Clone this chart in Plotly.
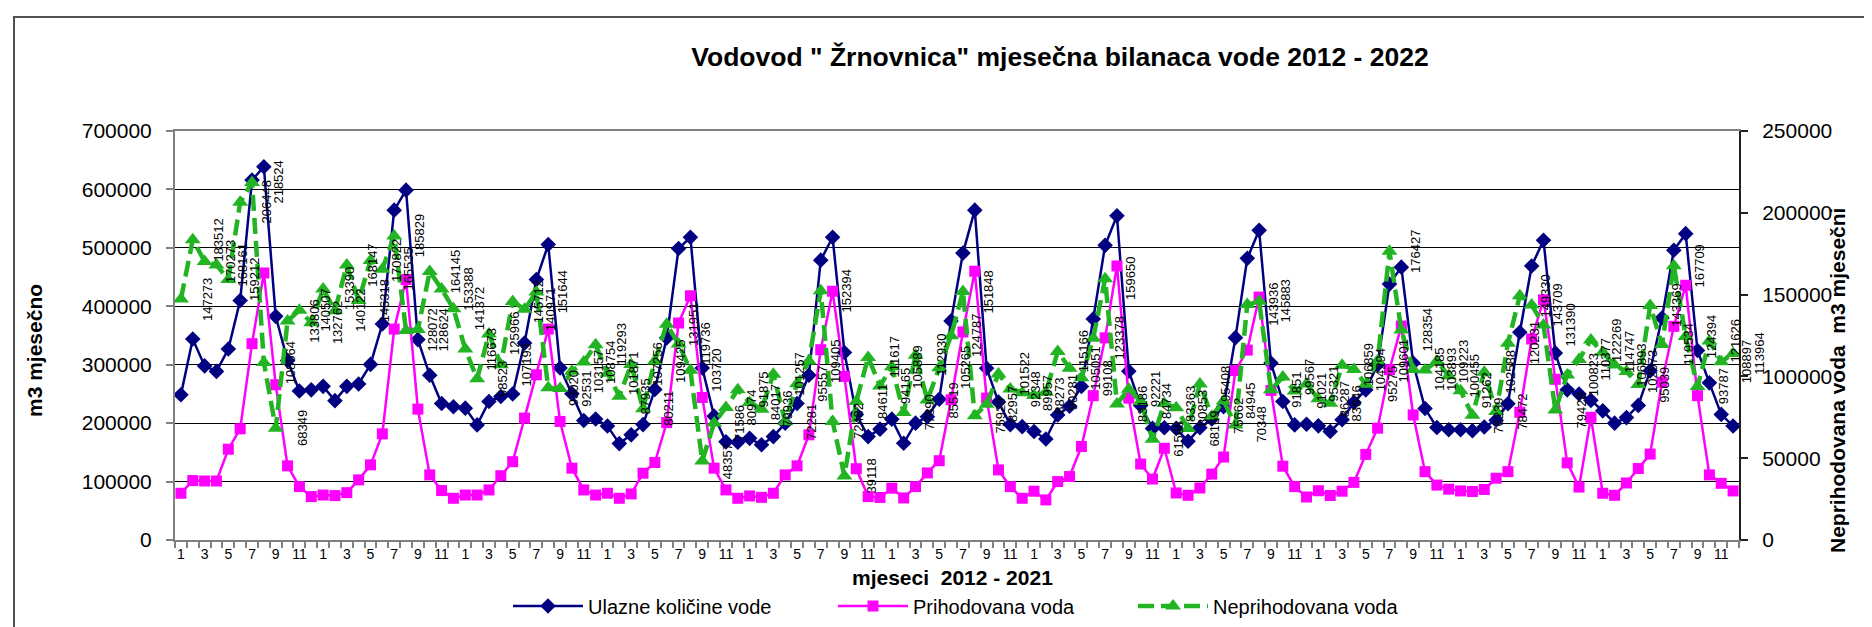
import plotly.graph_objects as go

# ---------------- data ----------------
years = list(range(2012, 2023))
months = [m for y in years for m in range(1, 13)]
x_idx = list(range(len(months)))

ulazne = [
    248600, 344000, 298000, 288600, 326800, 410000, 616000, 638800, 382800, 307000, 255000, 257000,
    263000, 238500, 263000, 267000, 300500, 369700, 564500, 598800, 343000, 282000, 233500, 228000,
    225700, 197000, 237000, 245500, 250000, 337000, 445700, 505700, 294500, 250500, 204500, 207000,
    195000, 165000, 180000, 197500, 257500, 346000, 498900, 518200, 294500, 212000, 168000, 167500,
    174000, 163000, 177000, 200000, 233500, 282000, 479000, 518200, 321000, 215000, 177000, 189700,
    206800, 165700, 200000, 211000, 241000, 375000, 491000, 564500, 294000, 236000, 197500, 194000,
    185700, 172800, 214000, 229000, 262900, 378400, 504300, 555000, 289000, 230000, 191000, 192000,
    191000, 169000, 192000, 207000, 228000, 346300, 482000, 530000, 302800, 237000, 197000, 198000,
    195400, 185700, 205700, 235500, 257000, 300000, 438000, 467000, 303000, 225000, 192600, 188600,
    188600, 187000, 193500, 205000, 233300, 355500, 469000, 513000, 320000, 257000, 250000, 239000,
    221000, 200000, 209500, 230400, 289500, 380000, 496000, 524300, 324300, 269000, 215000, 195000,
]

prihodovana = [
    80000, 101700, 101000, 101000, 155400, 190300, 336000, 457000, 265700, 126900, 91400, 74300,
    77000, 76000, 81000, 102900, 128600, 181700, 361000, 445700, 224000, 111400, 84600, 71400,
    77000, 77000, 85700, 110000, 134000, 208600, 282800, 361000, 202900, 122900, 85700, 77000,
    80000, 71400, 78900, 114300, 132600, 201000, 371400, 418000, 244000, 122900, 85700, 71400,
    75400, 73000, 80000, 111400, 126900, 180000, 325700, 425700, 280000, 122000, 74300, 72800,
    88600, 72000, 91400, 114800, 135700, 240000, 356000, 460000, 242900, 120000, 91400, 71400,
    83500, 68600, 100000, 108600, 160000, 247000, 346000, 469000, 242900, 130000, 104300, 157000,
    80500, 76500, 89000, 112800, 142000, 290000, 325000, 415700, 256000, 126300, 91400, 73600,
    84300, 76200, 83500, 98600, 146500, 191400, 291400, 366300, 214000, 117000, 94000, 87000,
    84000, 83000, 86500, 105700, 117000, 218600, 344000, 411000, 275000, 132000, 90600, 210000,
    80000, 76500, 97600, 122300, 147000, 270000, 365700, 436000, 247000, 111400, 97000, 84000,
]

neprihodovana = [
    147273, 183512, 170273, 168161, 159212, 206448, 218524, 108564, 68349, 133806, 140507, 132762,
    153390, 140122, 168147, 146318, 170822, 165535, 185829, 128072, 128624, 164145, 153388, 141372,
    116673, 98523, 125966, 107193, 145712, 140971, 151644, 93020, 92531, 103157, 108754, 119293,
    101871, 87935, 107256, 80211, 109425, 131951, 119736, 103720, 48357, 71586, 80974, 91875,
    84017, 79936, 101257, 72281, 95557, 109405, 152394, 72482, 39118, 84611, 111617, 94165,
    105889, 77890, 112930, 85519, 105265, 124787, 151848, 75929, 82957, 101522, 92348, 89957,
    88273, 90281, 115166, 105051, 99108, 123378, 159650, 83186, 92221, 84734, 61568, 83363,
    80853, 68169, 95408, 75662, 84945, 70348, 143936, 145883, 91851, 99567, 91021, 95321,
    86287, 83646, 106859, 104294, 95275, 109601, 176427, 128354, 104185, 103893, 109223, 100455,
    91262, 76239, 102588, 78472, 120231, 149330, 143709, 131390, 79428, 100823, 110377, 122269,
    114747, 106893, 102973, 95039, 143369, 119534, 167709, 124394, 93787, 121626, 108897, 113964,
]

series_names = ["Ulazne količine vode", "Prihodovana voda", "Neprihodovana voda"]
title_text = 'Vodovod " Žrnovnica" mjesečna bilanaca vode 2012 - 2022'
x_title = "mjeseci  2012 - 2021"
y_title = "m3 mjesečno"
y2_title = "Neprihodovana voda  m3 mjesečni"

tick_idx = [i for i, m in enumerate(months) if m % 2 == 1]
tick_txt = [str(months[i]) for i in tick_idx]

# ---------------- layout geometry ----------------
W, H = 1872, 627
L, R, T, B = 167, 141, 123, 95
PW, PH = W - L - R, H - T - B
X_RANGE = (-0.5, len(months) - 0.5)


def px_x(px):
    return (px - L) / PW


def px_y(py):
    return (H - B - py) / PH


FONT = "Arial, 'Liberation Sans', sans-serif"
NAVY = "#000080"
MAG = "#FF00FF"
GREEN = "#22B422"

fig = go.Figure()
fig.add_trace(go.Scatter(
    x=x_idx, y=ulazne, name=series_names[0], mode="lines+markers",
    line=dict(color=NAVY, width=2.5),
    marker=dict(symbol="diamond", size=12, color=NAVY),
    legendwidth=240,
))
fig.add_trace(go.Scatter(
    x=x_idx, y=prihodovana, name=series_names[1], mode="lines+markers",
    line=dict(color=MAG, width=2.5),
    marker=dict(symbol="square", size=11, color=MAG),
    legendwidth=215,
))
fig.add_trace(go.Scatter(
    x=x_idx, y=neprihodovana, name=series_names[2], mode="lines+markers", yaxis="y2",
    line=dict(color=GREEN, width=4.5, dash="16px,7px"),
    marker=dict(symbol="triangle-up", size=14, color=GREEN),
    legendwidth=195,
))

annotations = []
# data labels of the non-revenue series (rotated), shifted two months right as in the original
span = X_RANGE[1] - X_RANGE[0]
for i, v in enumerate(neprihodovana):
    annotations.append(dict(
        x=(x_idx[i] + 2.2 - X_RANGE[0]) / span, xref="paper",
        y=v, yref="y2", text=str(v), textangle=-90, showarrow=False,
        xanchor="center", yanchor="middle",
        font=dict(size=13, color="black", family=FONT),
    ))

annotations += [
    dict(x=px_x(26), y=px_y(343), xref="paper", yref="paper", text="<b>%s</b>" % y_title,
         textangle=-90, showarrow=False, font=dict(size=21, family=FONT, color="black"),
         xanchor="center", yanchor="middle"),
    dict(x=px_x(1829), y=px_y(372), xref="paper", yref="paper", text="<b>%s</b>" % y2_title,
         textangle=-90, showarrow=False, font=dict(size=21, family=FONT, color="black"),
         xanchor="center", yanchor="middle"),
    dict(x=px_x(944), y=px_y(569), xref="paper", yref="paper", text="<b>%s</b>" % x_title,
         showarrow=False, font=dict(size=21, family=FONT, color="black"),
         xanchor="center", yanchor="middle"),
]

shapes = [
    dict(type="rect", xref="paper", yref="paper",
         x0=px_x(6), x1=px_x(1869), y0=px_y(624), y1=px_y(9),
         line=dict(color="#505050", width=2), fillcolor="rgba(0,0,0,0)", layer="below"),
]

fig.update_layout(
    width=W, height=H, autosize=False,
    margin=dict(l=L, r=R, t=T, b=B, autoexpand=False),
    paper_bgcolor="white", plot_bgcolor="white",
    font=dict(family=FONT, color="black"),
    title=dict(text="<b>%s</b>" % title_text, x=px_x(1052), xref="paper", xanchor="center",
               y=1 - 49 / H, yref="container", yanchor="middle",
               font=dict(size=26.5, family=FONT, color="black")),
    xaxis=dict(
        range=list(X_RANGE), tickmode="array", tickvals=tick_idx, ticktext=tick_txt,
        ticks="", showgrid=False, zeroline=False,
        showline=True, linecolor="#808080", linewidth=2, mirror=True,
        tickfont=dict(size=14, family=FONT, color="black"),
        minor=dict(ticks="outside", ticklen=6, tickcolor="#808080", tickwidth=1.5,
                   tick0=-0.5, dtick=1, showgrid=False),
    ),
    yaxis=dict(
        range=[0, 700000], dtick=100000, tickformat="d",
        showgrid=True, gridcolor="black", gridwidth=1, zeroline=False,
        showline=True, linecolor="#808080", linewidth=2,
        ticks="outside", ticklen=7, tickcolor="#808080", tickwidth=1.5,
        ticklabelstandoff=10,
        tickfont=dict(size=21, family=FONT, color="black"),
    ),
    yaxis2=dict(
        range=[0, 250000], dtick=50000, tickformat="d", overlaying="y", side="right",
        showgrid=False, zeroline=False,
        showline=True, linecolor="#202020", linewidth=2,
        ticks="outside", ticklen=7, tickcolor="#202020", tickwidth=1.5,
        ticklabelstandoff=10,
        tickfont=dict(size=21, family=FONT, color="black"),
    ),
    legend=dict(orientation="h", x=px_x(500), xanchor="left", y=px_y(598), yanchor="middle",
                font=dict(size=20, family=FONT, color="black"), bgcolor="rgba(0,0,0,0)",
                itemwidth=70),
    annotations=annotations,
    shapes=shapes,
    showlegend=True,
)

fig.write_html("out.html")
